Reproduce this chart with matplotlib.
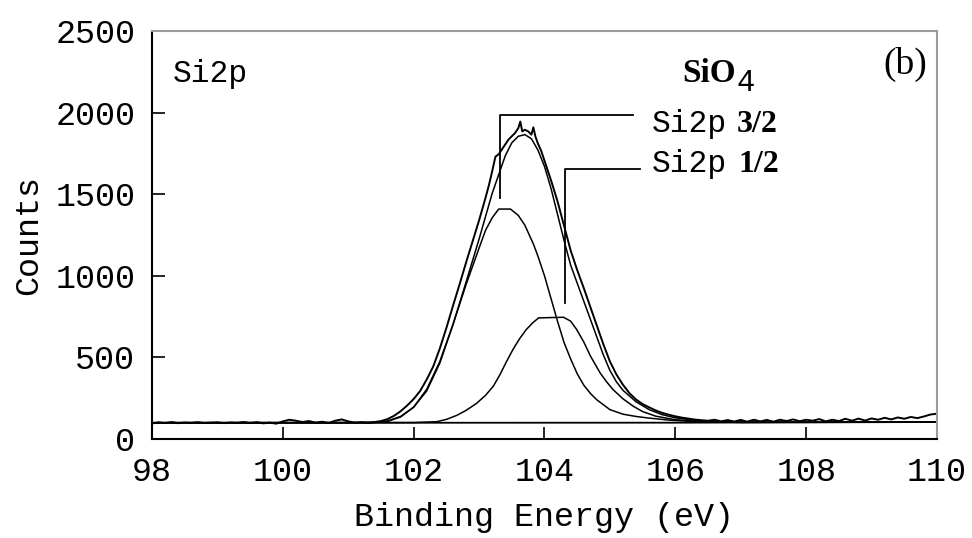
import matplotlib
matplotlib.use("Agg")
import matplotlib.pyplot as plt

# ---------------- data ----------------
raw_e = [98.0, 98.1, 98.2, 98.3, 98.4, 98.5, 98.6, 98.7, 98.8, 98.9,
         99.0, 99.1, 99.2, 99.3, 99.4, 99.5, 99.6, 99.7, 99.8, 99.9,
         100.0, 100.1, 100.2, 100.3, 100.4, 100.5, 100.6, 100.7, 100.8, 100.9,
         101.0, 101.1, 101.2, 101.3, 101.4, 101.5, 101.6, 101.7, 101.8, 101.9,
         102.0, 102.1, 102.2, 102.3, 102.4, 102.5, 102.6, 102.7, 102.8, 102.9,
         103.0, 103.05, 103.1, 103.15, 103.2, 103.25, 103.3, 103.35, 103.4, 103.45,
         103.5, 103.55, 103.6, 103.63, 103.66, 103.7, 103.75, 103.8, 103.83, 103.86,
         103.9, 103.95, 104.0, 104.1, 104.2, 104.3, 104.4, 104.5, 104.6, 104.7,
         104.8, 104.9, 105.0, 105.1, 105.2, 105.3, 105.4, 105.5, 105.6, 105.7,
         105.8, 105.9, 106.0, 106.1, 106.2, 106.3, 106.4, 106.5, 106.6, 106.7,
         106.8, 106.9, 107.0, 107.1, 107.2, 107.3, 107.4, 107.5, 107.6, 107.7,
         107.8, 107.9, 108.0, 108.1, 108.2, 108.3, 108.4, 108.5, 108.6, 108.7,
         108.8, 108.9, 109.0, 109.1, 109.2, 109.3, 109.4, 109.5, 109.6, 109.7,
         109.8, 109.9, 110.0]
raw_c = [95, 102, 98, 104, 97, 101, 99, 103, 98, 100,
         102, 97, 101, 99, 104, 98, 103, 96, 100, 94,
         108, 118, 112, 104, 110, 100, 106, 98, 112, 120,
         108, 100, 103, 99, 104, 110, 122, 142, 170, 205,
         245, 295, 365, 445, 555, 680, 815, 945, 1080, 1210,
         1340, 1410, 1480, 1555, 1640, 1730, 1745, 1775, 1805, 1835,
         1855, 1875, 1905, 1945, 1885, 1895, 1885, 1865, 1910, 1855,
         1810, 1765, 1705, 1585, 1455, 1305, 1155, 1035, 925, 810,
         695, 580, 475, 395, 332, 280, 242, 214, 194, 175,
         160, 149, 139, 131, 125, 119, 115, 112, 118, 108,
         116, 107, 117, 106, 118, 108, 117, 106, 118, 110,
         120, 109, 118, 112, 122, 108, 118, 110, 124, 112,
         125, 113, 126, 118, 130, 120, 132, 124, 135, 128,
         138, 150, 155]

env_e = [98.0, 101.0, 101.4, 101.6, 101.8, 102.0, 102.2, 102.4, 102.6, 102.8,
         103.0, 103.2, 103.4, 103.5, 103.6, 103.7, 103.8, 103.9, 104.0, 104.1,
         104.2, 104.3, 104.4, 104.5, 104.6, 104.7, 104.8, 104.9, 105.0, 105.1,
         105.2, 105.4, 105.6, 105.8, 106.0, 106.3, 106.6, 107.0, 108.0, 110.0]
env_c = [100, 100, 102, 110, 138, 195, 295, 465, 700, 960,
         1225, 1505, 1735, 1815, 1855, 1865, 1840, 1770, 1670, 1535,
         1375, 1215, 1065, 955, 845, 735, 625, 515, 420, 350,
         298, 228, 180, 149, 130, 115, 107, 104, 102, 104]

p32_e = [98.0, 101.0, 101.4, 101.6, 101.8, 102.0, 102.2, 102.4, 102.6, 102.8,
         103.0, 103.1, 103.2, 103.3, 103.48, 103.6, 103.7, 103.83, 103.9, 104.0,
         104.1, 104.2, 104.3, 104.4, 104.5, 104.6, 104.7, 104.8, 104.9, 105.0,
         105.2, 105.4, 105.6, 105.9, 106.3, 107.0, 110.0]
p32_c = [100, 100, 101, 108, 135, 195, 305, 475, 700, 945,
         1170, 1280, 1355, 1409, 1409, 1370, 1310, 1195, 1120, 1000,
         860, 720, 590, 490, 400, 330, 280, 240, 210, 180,
         152, 138, 128, 116, 106, 102, 104]

p12_e = [98.0, 102.0, 102.35, 102.5, 102.66, 102.8, 102.96, 103.1, 103.22, 103.32,
         103.42, 103.52, 103.62, 103.72, 103.82, 103.91, 104.29, 104.4, 104.49, 104.6,
         104.7, 104.85, 104.95, 105.05, 105.2, 105.36, 105.5, 105.7, 106.0, 106.5,
         107.0, 110.0]
p12_c = [100, 101, 106, 120, 145, 175, 218, 268, 325, 395,
         475, 550, 615, 670, 712, 742, 746, 722, 672, 595,
         510, 405, 350, 302, 246, 200, 168, 140, 118, 106,
         102, 104]

base_e = [98.0, 106.0, 110.0]
base_c = [99, 100, 104]

x_ticks = [98, 100, 102, 104, 106, 108, 110]
y_ticks = [0, 500, 1000, 1500, 2000, 2500]

# ---------------- figure ----------------
MONO = "Liberation Mono"
SERIF = "Liberation Serif"

fig = plt.figure(figsize=(9.72, 5.38), dpi=100)
ax = fig.add_axes([152 / 972, 1 - 439 / 538, (937 - 152) / 972, (439 - 31) / 538])

lw = 1.1
ax.plot(base_e, base_c, color="black", lw=1.3)
ax.plot(p12_e, p12_c, color="black", lw=lw)
ax.plot(p32_e, p32_c, color="black", lw=lw)
ax.plot(env_e, env_c, color="black", lw=lw)
ax.plot(raw_e, raw_c, color="black", lw=1.4)

# annotation leaders
ax.plot([103.32, 103.32, 105.35], [1477, 1985, 1985], color="black", lw=1.3)
ax.plot([104.31, 104.31, 105.46], [833, 1654, 1654], color="black", lw=1.3)

ax.set_xlim(98, 110)
ax.set_ylim(0, 2500)
ax.set_xticks(x_ticks)
ax.set_yticks(y_ticks)
ax.tick_params(direction="in", length=9, width=1.2, pad=12, labelsize=24)
for lab in ax.get_xticklabels() + ax.get_yticklabels():
    lab.set_fontfamily(MONO)
ax.tick_params(axis="x", pad=13)

for s in ["left", "bottom"]:
    ax.spines[s].set_color("black")
    ax.spines[s].set_linewidth(1.5)
for s in ["top", "right"]:
    ax.spines[s].set_color("#9a9a9a")
    ax.spines[s].set_linewidth(1.5)

ax.set_xlabel("Binding Energy (eV)", fontfamily=MONO, fontsize=24, labelpad=10)
ax.set_ylabel("Counts", fontfamily=MONO, fontsize=24, labelpad=8)

tr = ax.transAxes
ax.text(0.027, 0.875, "Si2p", transform=tr, fontfamily=MONO, fontsize=22.5, va="baseline")
ax.text(0.676, 0.875, "SiO", transform=tr, fontfamily=SERIF, fontweight="bold",
        fontsize=24, va="baseline")
ax.text(0.744, 0.853, "4", transform=tr, fontfamily=MONO, fontsize=22, va="baseline")
ax.text(0.987, 0.918, "(b)", transform=tr, fontfamily=SERIF, fontsize=27,
        ha="right", va="center")

ax.text(0.636, 0.752, "Si2p", transform=tr, fontfamily=MONO, fontsize=22.5, va="baseline")
ax.text(0.745, 0.752, "3/2", transform=tr, fontfamily=SERIF, fontweight="bold",
        fontsize=23, va="baseline")
ax.text(0.636, 0.654, "Si2p", transform=tr, fontfamily=MONO, fontsize=22.5, va="baseline")
ax.text(0.747, 0.654, "1/2", transform=tr, fontfamily=SERIF, fontweight="bold",
        fontsize=23, va="baseline")

fig.savefig("out.png", dpi=100)
